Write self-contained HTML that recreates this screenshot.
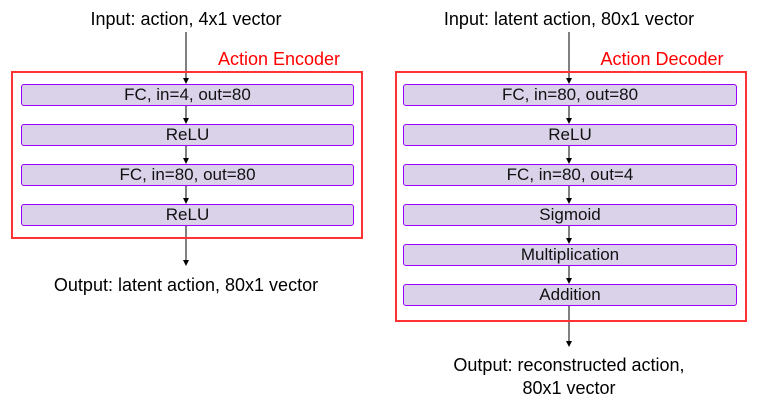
<!DOCTYPE html>
<html><head><style>
body{margin:0;width:766px;height:412px;background:#fff;position:relative;font-family:"Liberation Sans",Arial,sans-serif;overflow:hidden}
.t{position:absolute;font-size:18px;color:#000;text-align:center;white-space:nowrap}
.red{position:absolute;border:2px solid #f33;box-sizing:border-box}
.b{position:absolute;background:#d9d2e9;border:1px solid #9900ff;border-radius:3px;box-sizing:border-box;font-size:17px;text-align:center;line-height:20px;color:#111}
</style></head><body>
<svg width="766" height="412" style="position:absolute;left:0;top:0">
<defs><marker id="a" markerWidth="6" markerHeight="6" refX="5" refY="3" orient="auto"><path d="M0,0L6,3L0,6z" fill="#000"/></marker></defs>
<g stroke="#000" stroke-width="1">
<line x1="186" y1="32" x2="186" y2="83" marker-end="url(#a)"/>
<line x1="186" y1="106" x2="186" y2="123" marker-end="url(#a)"/>
<line x1="186" y1="146" x2="186" y2="163" marker-end="url(#a)"/>
<line x1="186" y1="186" x2="186" y2="203" marker-end="url(#a)"/>
<line x1="186" y1="226" x2="186" y2="265" marker-end="url(#a)"/>
<line x1="569" y1="32" x2="569" y2="83" marker-end="url(#a)"/>
<line x1="569" y1="106" x2="569" y2="123" marker-end="url(#a)"/>
<line x1="569" y1="146" x2="569" y2="163" marker-end="url(#a)"/>
<line x1="569" y1="186" x2="569" y2="203" marker-end="url(#a)"/>
<line x1="569" y1="226" x2="569" y2="243" marker-end="url(#a)"/>
<line x1="569" y1="266" x2="569" y2="283" marker-end="url(#a)"/>
<line x1="569" y1="306" x2="569" y2="346" marker-end="url(#a)"/>
</g></svg>
<div class="t" style="left:36px;width:300px;top:9px">Input: action, 4x1 vector</div>
<div class="t" style="left:419px;width:300px;top:9px">Input: latent action, 80x1 vector</div>
<div class="t" style="left:199px;width:160px;top:49px;color:#f00">Action Encoder</div>
<div class="t" style="left:582px;width:160px;top:49px;color:#f00">Action Decoder</div>
<div class="red" style="left:11px;top:71px;width:352px;height:168px"></div>
<div class="red" style="left:395px;top:71px;width:352px;height:251px"></div>
<div class="b" style="left:21px;top:84px;width:333px;height:22px">FC, in=4, out=80</div>
<div class="b" style="left:21px;top:124px;width:333px;height:22px">ReLU</div>
<div class="b" style="left:21px;top:164px;width:333px;height:22px">FC, in=80, out=80</div>
<div class="b" style="left:21px;top:204px;width:333px;height:22px">ReLU</div>
<div class="b" style="left:403px;top:84px;width:334px;height:22px">FC, in=80, out=80</div>
<div class="b" style="left:403px;top:124px;width:334px;height:22px">ReLU</div>
<div class="b" style="left:403px;top:164px;width:334px;height:22px">FC, in=80, out=4</div>
<div class="b" style="left:403px;top:204px;width:334px;height:22px">Sigmoid</div>
<div class="b" style="left:403px;top:244px;width:334px;height:22px">Multiplication</div>
<div class="b" style="left:403px;top:284px;width:334px;height:22px">Addition</div>
<div class="t" style="left:36px;width:300px;top:275px">Output: latent action, 80x1 vector</div>
<div class="t" style="left:419px;width:300px;top:354px;line-height:23px">Output: reconstructed action,<br>80x1 vector</div>
</body></html>
